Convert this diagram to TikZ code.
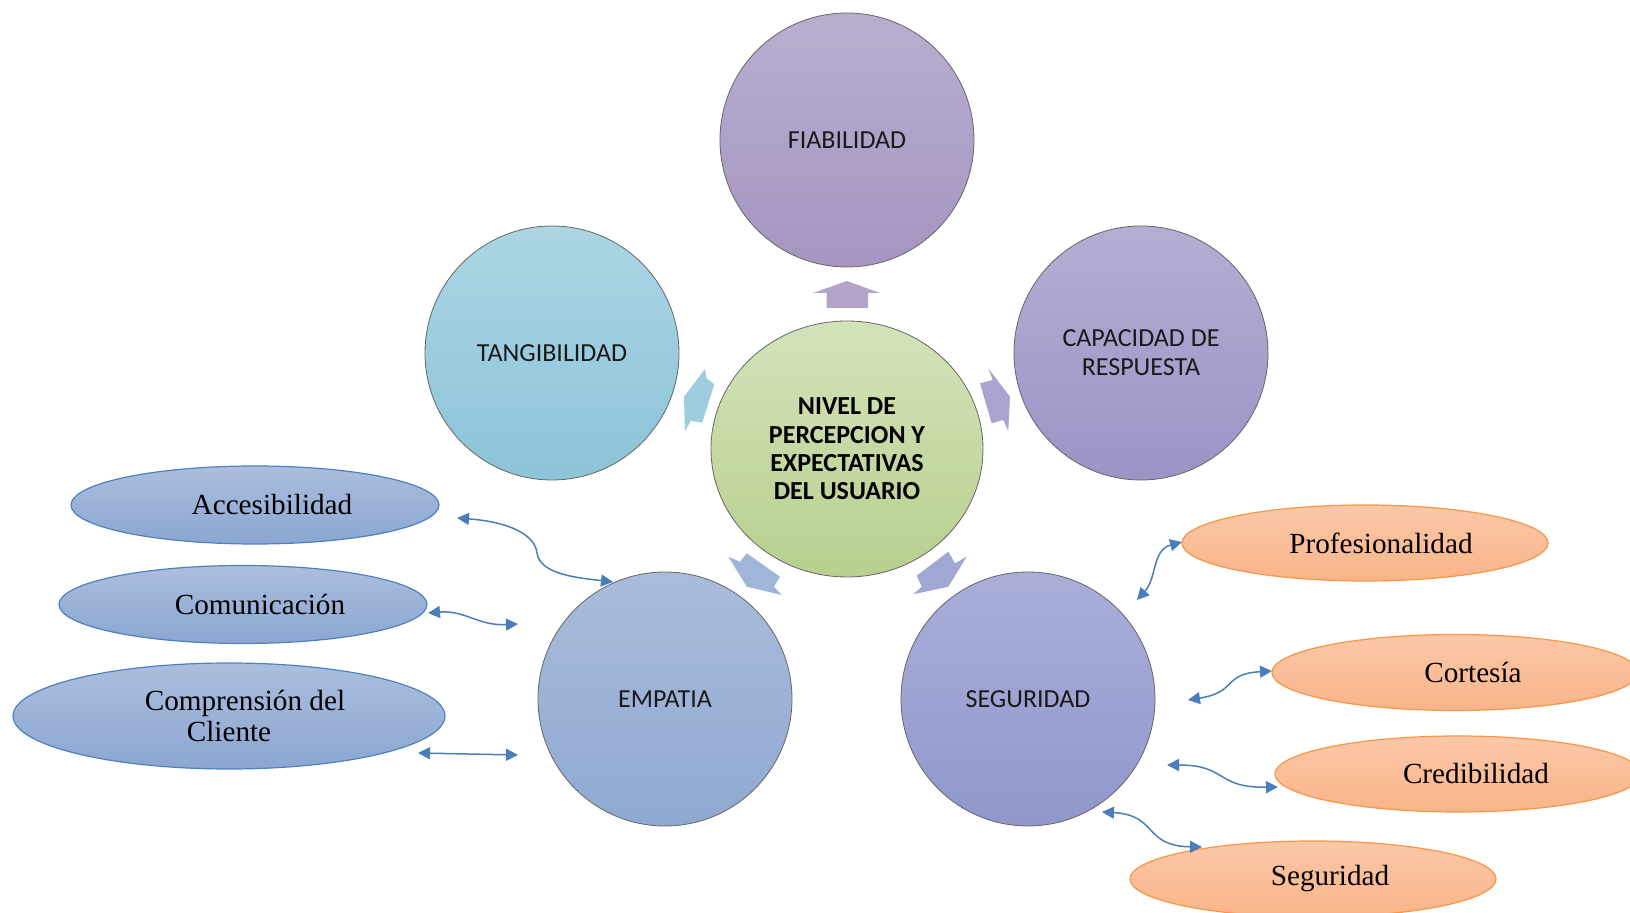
\documentclass[tikz,border=0pt]{standalone}
\usepackage{fontspec}
\setmainfont{Liberation Serif}
\newfontfamily\calib{Carlito}
\usetikzlibrary{arrows.meta,shapes.geometric}

\definecolor{linkblue}{HTML}{4A7EBB}
\definecolor{rimblue}{HTML}{4F81BD}
\definecolor{rimorange}{HTML}{F79646}
\definecolor{fiatop}{HTML}{B9AED0}  \definecolor{fiabot}{HTML}{A595C0}
\definecolor{tangtop}{HTML}{ABD5E3} \definecolor{tangbot}{HTML}{8CC4D8}
\definecolor{captop}{HTML}{B5AED3}  \definecolor{capbot}{HTML}{9C93C6}
\definecolor{coretop}{HTML}{D3E3BA} \definecolor{corebot}{HTML}{B8CF8E}
\definecolor{emptop}{HTML}{AABCDA}  \definecolor{empbot}{HTML}{8EA9D2}
\definecolor{segtop}{HTML}{AAAED9}  \definecolor{segbot}{HTML}{9097CB}
\definecolor{bluetop}{HTML}{ABBEDE} \definecolor{bluebot}{HTML}{8BA6D1}
\definecolor{orangetop}{HTML}{FBC8A8} \definecolor{orangebot}{HTML}{F9B488}

\begin{document}
\begin{tikzpicture}[
        x=0.5pt, y=-0.5pt,
        >={Triangle[length=6pt,width=6pt]},
        dim/.style = {circle, draw=black!60, line width=0.4pt, minimum size=127pt, inner sep=0pt,
            align=center, text=black!90, font=\calib\fontsize{13}{14.5}\selectfont},
        core/.style = {ellipse, draw=black!60, line width=0.4pt, minimum width=136pt, minimum height=128pt,
            inner sep=0pt, align=center, font=\calib\bfseries\fontsize{13}{14.2}\selectfont,
            top color=coretop, bottom color=corebot},
        sub/.style = {ellipse, inner sep=0pt, line width=0.6pt, align=center, font=\fontsize{14.6}{15.8}\selectfont},
        subblue/.style = {sub, draw=rimblue, top color=bluetop, bottom color=bluebot,
            minimum width=184pt, minimum height=39pt},
        suborange/.style = {sub, draw=rimorange, top color=orangetop, bottom color=orangebot,
            minimum width=183pt, minimum height=38pt},
        link/.style = {<->, linkblue, line width=0.75pt},
        pointer/.style = {draw=none}
    ]

    \useasboundingbox (0,0) rectangle (1630,913);

    % five dimensions round the core
    \node (core) at (847,449) [core] {NIVEL DE\\PERCEPCION Y\\EXPECTATIVAS\\DEL USUARIO};
    \node (fia) at (847,140) [dim, top color=fiatop, bottom color=fiabot] {FIABILIDAD};
    \node (tang) at (552,353) [dim, top color=tangtop, bottom color=tangbot] {TANGIBILIDAD};
    \node (cap) at (1141,353) [dim, top color=captop, bottom color=capbot] {CAPACIDAD DE\\RESPUESTA};
    \node (emp) at (665,699) [dim, top color=emptop, bottom color=empbot] {EMPATIA};
    \node (seg) at (1028,699) [dim, top color=segtop, bottom color=segbot] {SEGURIDAD};

    \fill[pointer, fill=fiabot!85!white] (847,281) -- (880,293) -- (868,293) -- (868,308) -- (826.7,308) -- (826.7,293) -- (813,293) -- cycle;
    \fill[pointer, fill=tangbot!85!white] (684,396.7) -- (705,369) -- (706.7,378.3) -- (714.3,384.3) -- (702.3,422.7) -- (690.7,420.7) -- (685,431.7) -- cycle;
    \fill[pointer, fill=capbot!85!white] (1010,396.7) -- (988.3,368.3) -- (992.7,380) -- (980,383.3) -- (991.7,423.3) -- (1003.3,420) -- (1008.3,431) -- cycle;
    \fill[pointer, fill=empbot!85!white] (746.7,586.7) -- (728.3,556.7) -- (740,561.7) -- (746.7,553.3) -- (780,576.7) -- (774,586.7) -- (781.7,595) -- cycle;
    \fill[pointer, fill=segbot!85!white] (948.3,586.7) -- (966.7,556.7) -- (955,563.3) -- (948.3,551.7) -- (916.7,575.7) -- (921.7,586.7) -- (913.3,594.3) -- cycle;

    % empatia
    \node (acc) at (255,505) [subblue] {\hspace*{17pt}Accesibilidad};
    \node (com) at (243,604.5) [subblue] {\hspace*{17pt}Comunicación};
    \node (cli) at (229,716) [subblue, minimum width=216pt, minimum height=53pt] {\hspace*{16pt}Comprensión del\\Cliente};

    % seguridad
    \node (pro) at (1365,543) [suborange] {\hspace*{16pt}Profesionalidad};
    \node (cor) at (1455,672.5) [suborange] {\hspace*{18pt}Cortesía};
    \node (cre) at (1458,774) [suborange] {\hspace*{18pt}Credibilidad};
    \node (segu) at (1313,879) [suborange] {\hspace*{17pt}Seguridad};

    \coordinate (acc1) at (457,518);   \coordinate (acc2) at (613,582);
    \coordinate (com1) at (428,613);   \coordinate (com2) at (518,624);
    \coordinate (cli1) at (418,753);   \coordinate (cli2) at (518,755);
    \coordinate (pro1) at (1137,600);  \coordinate (pro2) at (1182,542);
    \coordinate (cor1) at (1188,700);  \coordinate (cor2) at (1272,671);
    \coordinate (cre1) at (1167,765);  \coordinate (cre2) at (1278,787);
    \coordinate (segu1) at (1102,812); \coordinate (segu2) at (1202,847);

    \draw[link] (acc1) .. controls (510,522) and (535,535) .. (537,553) .. controls (540,575) and (580,578) .. (acc2);
    \draw[link] (com1) .. controls (465,610) and (478,626) .. (com2);
    \path (cli1) edge [link] (cli2);
    \draw[link] (pro1) .. controls (1157,578) and (1152,550) .. (pro2);
    \draw[link] (cor1) .. controls (1238,692) and (1222,674) .. (cor2);
    \draw[link] (cre1) .. controls (1228,765) and (1215,788) .. (cre2);
    \draw[link] (segu1) .. controls (1158,815) and (1143,846) .. (segu2);

\end{tikzpicture}
\end{document}
